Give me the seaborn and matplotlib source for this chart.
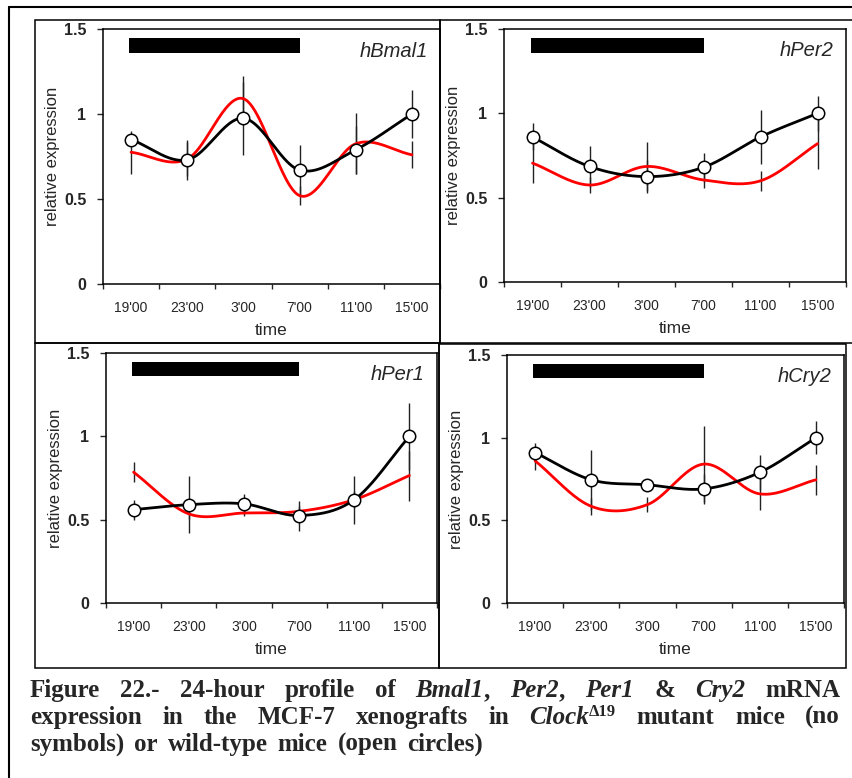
import numpy as np
import seaborn as sns
import matplotlib.pyplot as plt
from matplotlib.patches import Rectangle
from matplotlib.lines import Line2D

# ---- data ----
times = ["19'00", "23'00", "3'00", "7'00", "11'00", "15'00"]
genes = ["hBmal1", "hPer2", "hPer1", "hCry2"]

bmal1_wt = [0.85, 0.73, 0.975, 0.67, 0.79, 1.0]
bmal1_wt_err = [0.03, 0.12, 0.215, 0.145, 0.14, 0.14]
bmal1_mut = [0.775, 0.735, 1.09, 0.52, 0.825, 0.76]
bmal1_mut_err = [0.125, 0.10, 0.135, 0.055, 0.18, 0.08]

per2_wt = [0.86, 0.685, 0.625, 0.68, 0.86, 1.0]
per2_wt_err = [0.08, 0.12, 0.10, 0.085, 0.16, 0.105]
per2_mut = [0.705, 0.575, 0.685, 0.605, 0.60, 0.82]
per2_mut_err = [0.12, 0.045, 0.145, 0.05, 0.06, 0.15]

per1_wt = [0.56, 0.59, 0.595, 0.525, 0.62, 1.0]
per1_wt_err = [0.06, 0.17, 0.06, 0.09, 0.145, 0.2]
per1_mut = [0.785, 0.535, 0.54, 0.55, 0.62, 0.765]
per1_mut_err = [0.06, 0.03, 0.02, 0.03, 0.05, 0.15]

cry2_wt = [0.91, 0.745, 0.715, 0.69, 0.79, 1.0]
cry2_wt_err = [0.055, 0.183, 0.03, 0.09, 0.105, 0.1]
cry2_mut = [0.86, 0.585, 0.595, 0.84, 0.66, 0.745]
cry2_mut_err = [0.057, 0.05, 0.045, 0.23, 0.095, 0.09]

panels = [
    (bmal1_wt, bmal1_wt_err, bmal1_mut, bmal1_mut_err),
    (per2_wt, per2_wt_err, per2_mut, per2_mut_err),
    (per1_wt, per1_wt_err, per1_mut, per1_mut_err),
    (cry2_wt, cry2_wt_err, cry2_mut, cry2_mut_err),
]

W, H = 852, 778


def smooth(x, y, n=50):
    # Catmull-Rom style smoothed line through the points (like a spreadsheet "smoothed line")
    x = np.asarray(x, float)
    y = np.asarray(y, float)
    m = np.empty_like(y)
    m[1:-1] = (y[2:] - y[:-2]) / 2
    m[0] = y[1] - y[0]
    m[-1] = y[-1] - y[-2]
    xs, ys = [], []
    t = np.linspace(0, 1, n)
    h00 = 2 * t ** 3 - 3 * t ** 2 + 1
    h10 = t ** 3 - 2 * t ** 2 + t
    h01 = -2 * t ** 3 + 3 * t ** 2
    h11 = t ** 3 - t ** 2
    for i in range(len(x) - 1):
        xs.append(x[i] + t * (x[i + 1] - x[i]))
        ys.append(h00 * y[i] + h10 * m[i] + h01 * y[i + 1] + h11 * m[i + 1])
    return np.concatenate(xs), np.concatenate(ys)


def px_axes(left, top, right, bottom):
    return fig.add_axes([left / W, 1 - bottom / H, (right - left) / W, (bottom - top) / H])


sns.set_style("ticks")
plt.rcParams["font.family"] = ["Liberation Sans", "DejaVu Sans"]

fig = plt.figure(figsize=(W / 100, H / 100), dpi=100)

# outer frame (left + top only visible) and panel frames
fig.add_artist(Line2D([9 / W, 9 / W], [0, 1 - 7 / H], color="black", lw=1.5, transform=fig.transFigure))
fig.add_artist(Line2D([9 / W, 1], [1 - 7 / H, 1 - 7 / H], color="black", lw=1.5, transform=fig.transFigure))
frames = [(35, 20, 440, 343), (440, 20, 856, 343), (35, 343, 439, 668), (439, 344, 846, 668)]
for (l, t, r, b) in frames:
    fig.add_artist(Rectangle((l / W, 1 - b / H), (r - l) / W, (b - t) / H, fill=False,
                             ec="black", lw=1.1, transform=fig.transFigure))

boxes = [(103, 29, 440, 284), (504, 29, 846, 282), (106, 353, 437, 603), (507, 355, 844, 603)]
pos = np.arange(len(times)) + 0.5

for box, gene, (wt, wt_err, mut, mut_err) in zip(boxes, genes, panels):
    ax = px_axes(*box)
    wt = np.array(wt)
    mut = np.array(mut)

    ax.vlines(pos, wt - np.array(wt_err), wt + np.array(wt_err), color="#222222", lw=1.0, zorder=1)
    ax.vlines(pos, mut - np.array(mut_err), mut + np.array(mut_err), color="#222222", lw=1.0, zorder=1)

    xs, ys = smooth(pos, mut)
    sns.lineplot(x=xs, y=ys, color="#ff0000", lw=2, sort=False, estimator=None, ax=ax, zorder=2)
    xs, ys = smooth(pos, wt)
    sns.lineplot(x=xs, y=ys, color="black", lw=2, sort=False, estimator=None, ax=ax, zorder=3)
    sns.scatterplot(x=pos, y=wt, s=80, facecolor="white", edgecolor="black", linewidth=1.1,
                    zorder=5, ax=ax)

    # dark phase bar
    ax.add_patch(Rectangle((0.47, 1.36), 3.03, 0.087, color="black", lw=0, zorder=4))
    ax.text(5.78, 1.37, gene, ha="right", va="center", fontsize=14.5, style="italic")

    ax.set_xlim(0, 6)
    ax.set_ylim(0, 1.5)
    ax.set_xticks(np.arange(7))
    ax.set_xticklabels([])
    ax.set_xticks(pos, minor=True)
    ax.set_xticklabels(times, minor=True, fontsize=10)
    ax.tick_params(axis="x", which="major", direction="out", length=3.5, width=1)
    ax.tick_params(axis="x", which="minor", length=0, pad=12)
    ax.set_yticks([0, 0.5, 1, 1.5])
    ax.set_yticklabels(["0", "0.5", "1", "1.5"], fontsize=11.5, fontweight="bold")
    ax.tick_params(axis="y", direction="out", length=4, width=1, pad=8)
    ax.set_xlabel("time", fontsize=12.5, labelpad=6)
    ax.set_ylabel("relative expression", fontsize=12, labelpad=3)
    for s in ax.spines.values():
        s.set_visible(True)
        s.set_linewidth(1.1)
        s.set_color("black")

# ---- caption, justified like the original ----
renderer = fig.canvas.get_renderer()
cap = dict(fontfamily="Liberation Serif", fontweight="bold", fontsize=18)
it = dict(style="italic")
sup = dict(fontsize=12, dy=8)

lines = [
    [[("Figure", {})], [("22.-", {})], [("24-hour", {})], [("profile", {})], [("of", {})],
     [("Bmal1", it), (",", {})], [("Per2", it), (",", {})], [("Per1", it)], [("&", {})],
     [("Cry2", it)], [("mRNA", {})]],
    [[("expression", {})], [("in", {})], [("the", {})], [("MCF-7", {})], [("xenografts", {})],
     [("in", {})], [("Clock", it), ("\u039419", sup)], [("mutant", {})], [("mice", {})], [("(no", {})]],
    [[("symbols)", {})], [("or", {})], [("wild-type", {})], [("mice", {})], [("(open", {})],
     [("circles)", {})]],
]
baselines = [697, 724, 751]
x0, x1 = 30, 840

for words, yb, justify in zip(lines, baselines, [True, True, False]):
    placed = []
    total = 0
    for w in words:
        parts = []
        for txt, kw in w:
            kw = dict(kw)
            dy = kw.pop("dy", 0)
            props = dict(cap)
            props.update(kw)
            t = fig.text(0, 1 - (yb - dy) / H, txt, va="baseline", ha="left", **props)
            wd = t.get_window_extent(renderer).width
            parts.append((t, wd))
            total += wd
        placed.append(parts)
    gap = (x1 - x0 - total) / (len(placed) - 1) if justify else 10.0
    x = x0
    for parts in placed:
        for t, wd in parts:
            t.set_x(x / W)
            x += wd
        x += gap

fig.savefig("out.png", dpi=100)
